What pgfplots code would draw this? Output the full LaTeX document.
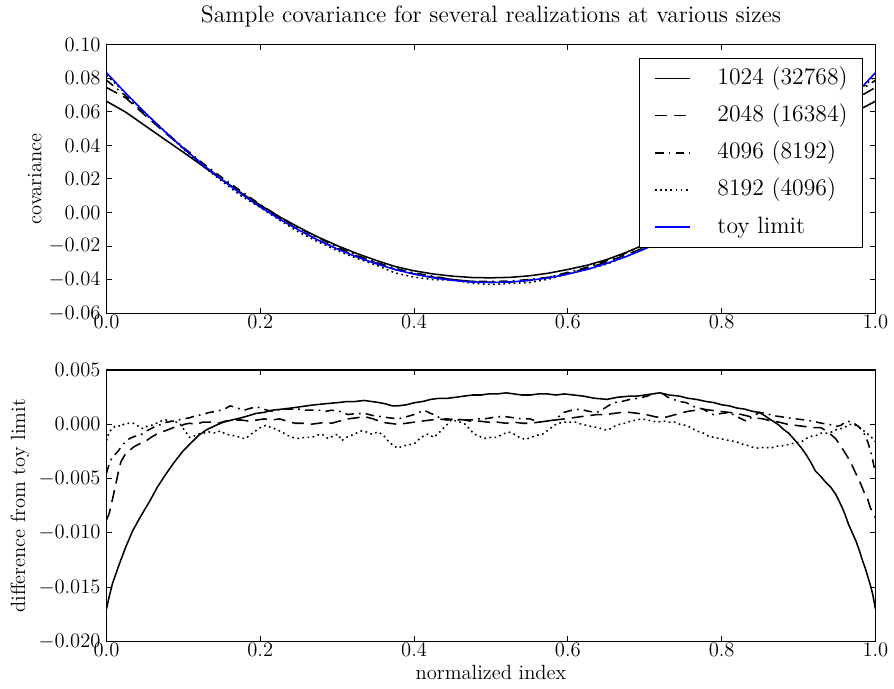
\documentclass[border=0pt]{standalone}
\usepackage{pgfplots}
\pgfplotsset{compat=1.18}
\usepackage{pgfplotstable}

\pgfplotstableread{
x a b c d t
0.000 0.0663 0.0745 0.0788 0.0818 0.0833
0.025 0.0598 0.0683 0.0695 0.0710 0.0711
0.050 0.0518 0.0580 0.0589 0.0593 0.0596
0.075 0.0438 0.0480 0.0487 0.0489 0.0486
0.100 0.0359 0.0383 0.0388 0.0378 0.0383
0.125 0.0278 0.0287 0.0295 0.0278 0.0286
0.150 0.0196 0.0198 0.0209 0.0187 0.0196
0.175 0.0117 0.0115 0.0127 0.0099 0.0111
0.200 0.0044 0.0037 0.0048 0.0030 0.0033
0.225 -0.0025 -0.0034 -0.0026 -0.0045 -0.0039
0.250 -0.0088 -0.0103 -0.0091 -0.0117 -0.0104
0.275 -0.0146 -0.0163 -0.0150 -0.0174 -0.0164
0.300 -0.0197 -0.0214 -0.0204 -0.0227 -0.0217
0.325 -0.0243 -0.0258 -0.0254 -0.0272 -0.0264
0.350 -0.0284 -0.0299 -0.0295 -0.0312 -0.0304
0.375 -0.0321 -0.0339 -0.0332 -0.0359 -0.0339
0.400 -0.0347 -0.0365 -0.0359 -0.0385 -0.0367
0.425 -0.0366 -0.0385 -0.0380 -0.0400 -0.0389
0.450 -0.0379 -0.0399 -0.0399 -0.0401 -0.0404
0.475 -0.0387 -0.0410 -0.0410 -0.0421 -0.0414
0.500 -0.0389 -0.0415 -0.0411 -0.0429 -0.0417
0.525 -0.0386 -0.0413 -0.0408 -0.0422 -0.0414
0.550 -0.0377 -0.0403 -0.0399 -0.0417 -0.0404
0.575 -0.0361 -0.0386 -0.0386 -0.0397 -0.0389
0.600 -0.0339 -0.0362 -0.0356 -0.0365 -0.0367
0.625 -0.0314 -0.0332 -0.0326 -0.0340 -0.0339
0.650 -0.0281 -0.0295 -0.0288 -0.0308 -0.0304
0.675 -0.0239 -0.0253 -0.0242 -0.0263 -0.0264
0.700 -0.0190 -0.0208 -0.0191 -0.0213 -0.0217
0.725 -0.0136 -0.0158 -0.0136 -0.0162 -0.0164
0.750 -0.0079 -0.0093 -0.0083 -0.0105 -0.0104
0.775 -0.0017 -0.0025 -0.0025 -0.0047 -0.0039
0.800 0.0052 0.0045 0.0043 0.0020 0.0033
0.825 0.0126 0.0120 0.0115 0.0094 0.0111
0.850 0.0207 0.0201 0.0207 0.0175 0.0196
0.875 0.0285 0.0288 0.0293 0.0267 0.0286
0.900 0.0365 0.0382 0.0387 0.0370 0.0383
0.925 0.0441 0.0483 0.0489 0.0478 0.0486
0.950 0.0530 0.0588 0.0595 0.0593 0.0596
0.975 0.0603 0.0679 0.0711 0.0710 0.0711
1.000 0.0663 0.0745 0.0788 0.0815 0.0833
}\topdata

\begin{document}
\begin{tikzpicture}
\pgfplotsset{
  every axis/.append style={
    scale only axis, width=448.3pt, xmin=0, xmax=1,
    xtick={0,0.2,0.4,0.6,0.8,1.0},
    xticklabel style={yshift=2.5pt,/pgf/number format/fixed,/pgf/number format/fixed zerofill,/pgf/number format/precision=1},
    tick label style={font=\fontsize{12}{14}\selectfont},
    label style={font=\fontsize{12}{14}\selectfont},
    axis line style={line width=0.8pt},
    major tick length=3pt,
    tick style={line width=0.6pt, black},
    scaled ticks=false,
    minor tick num=0,
    tick align=inside,
  },
  dashA/.style={dash pattern=on 7pt off 4pt},
  dashdotA/.style={dash pattern=on 5pt off 3pt on 1pt off 3pt},
  dotA/.style={dash pattern=on 1pt off 2pt},
}

\begin{axis}[
  name=top, at={(0pt,191.4pt)}, anchor=south west, height=156.6pt,
  ymin=-0.06, ymax=0.10,
  ytick={-0.06,-0.04,-0.02,0,0.02,0.04,0.06,0.08,0.10},
  yticklabel style={/pgf/number format/fixed,/pgf/number format/fixed zerofill,/pgf/number format/precision=2},
  ylabel={covariance},
  ylabel style={at={(axis description cs:-0.0932,0.5)}, anchor=center},
  title={Sample covariance for several realizations at various sizes},
  title style={font=\fontsize{13.8}{16}\selectfont, at={(axis description cs:0.5,1)}, anchor=base, yshift=7pt},
  legend cell align=left,
  legend image code/.code={\draw[#1] (0pt,0pt) -- (20.3pt,0pt) ++(15.7pt,0pt);},
  legend style={at={(1,1)}, anchor=north east, xshift=-7.5pt, yshift=-7.5pt,
    font=\fontsize{13.8}{16}\selectfont, fill=white,
    row sep=7.9pt, inner xsep=8.5pt, inner ysep=5pt,
    nodes={inner sep=0pt, text height=10.4pt, text depth=3.4pt}},
]
\addplot[black, line width=0.9pt] table[x=x,y=a] {\topdata};
\addlegendentry{1024 (32768)}
\addplot[black, line width=0.9pt, dashA] table[x=x,y=b] {\topdata};
\addlegendentry{2048 (16384)}
\addplot[black, line width=0.9pt, dashdotA] table[x=x,y=c] {\topdata};
\addlegendentry{4096 (8192)}
\addplot[black, line width=0.9pt, dotA] table[x=x,y=d] {\topdata};
\addlegendentry{8192 (4096)}
\addplot[blue, line width=0.9pt] table[x=x,y=t] {\topdata};
\addlegendentry{toy limit}
\end{axis}

\begin{axis}[
  at={(0pt,0pt)}, anchor=south west, height=158.3pt,
  ymin=-0.02, ymax=0.005,
  ytick={-0.02,-0.015,-0.01,-0.005,0,0.005},
  yticklabel style={/pgf/number format/fixed,/pgf/number format/fixed zerofill,/pgf/number format/precision=3},
  xlabel={normalized index},
  xlabel style={at={(axis description cs:0.5,0)}, anchor=base, yshift=-22pt},
  ylabel={difference from toy limit},
  ylabel style={at={(axis description cs:-0.1126,0.5)}, anchor=center},
]
% 1024 (32768)
\addplot[black, line width=0.9pt] coordinates {
(0,-0.0170)(0.003,-0.0160)(0.008,-0.0146)(0.013,-0.0136)(0.017,-0.0128)(0.025,-0.0113)
(0.034,-0.0098)(0.045,-0.0084)(0.056,-0.0071)(0.066,-0.0058)(0.077,-0.0046)(0.088,-0.0035)
(0.099,-0.0025)(0.11,-0.0017)(0.12,-0.0010)(0.13,-0.0005)(0.142,-0.0001)(0.152,0.0002)
(0.163,0.0004)(0.175,0.0006)(0.185,0.0008)(0.194,0.0010)(0.205,0.0011)(0.215,0.0013)
(0.228,0.0014)(0.24,0.0015)(0.25,0.0016)(0.26,0.0017)(0.271,0.0018)(0.285,0.0019)
(0.301,0.0020)(0.312,0.0021)(0.323,0.0021)(0.335,0.0022)(0.345,0.0021)(0.355,0.0020)
(0.362,0.0019)(0.372,0.0017)(0.379,0.0017)(0.39,0.0018)(0.401,0.0020)(0.411,0.0021)
(0.422,0.0023)(0.433,0.0024)(0.444,0.0024)(0.455,0.0025)(0.465,0.0026)(0.476,0.0027)
(0.487,0.0027)(0.497,0.0028)(0.508,0.0028)(0.52,0.0029)(0.53,0.0028)(0.54,0.0027)
(0.551,0.0027)(0.562,0.0028)(0.573,0.0028)(0.585,0.0027)(0.595,0.0028)(0.608,0.0027)
(0.62,0.0026)(0.635,0.0024)(0.651,0.0023)(0.665,0.0025)(0.681,0.0026)(0.69,0.0026)
(0.700,0.0027)(0.71,0.0028)(0.720,0.0029)(0.732,0.0027)(0.745,0.0026)(0.756,0.0024)
(0.767,0.0023)(0.78,0.0021)(0.79,0.0020)(0.80,0.0018)(0.81,0.0017)(0.82,0.0015)
(0.83,0.0014)(0.84,0.0012)(0.849,0.0011)(0.856,0.0008)(0.862,0.0005)(0.869,0.0002)
(0.875,-0.0001)(0.881,-0.0005)(0.887,-0.0008)(0.892,-0.0012)(0.897,-0.0016)(0.904,-0.0022)
(0.91,-0.0028)(0.916,-0.0035)(0.922,-0.0043)(0.929,-0.0048)(0.935,-0.0053)(0.942,-0.0058)
(0.948,-0.0064)(0.953,-0.0071)(0.957,-0.0077)(0.961,-0.0084)(0.965,-0.0092)(0.97,-0.0100)
(0.975,-0.0108)(0.979,-0.0116)(0.983,-0.0125)(0.987,-0.0133)(0.99,-0.0140)(0.993,-0.0147)
(0.996,-0.0155)(0.998,-0.0162)(1.0,-0.0170)
};
% 2048 (16384)
\addplot[black, line width=0.9pt, dashA] coordinates {
(0,-0.0088)(0.003,-0.0083)(0.005,-0.0078)(0.009,-0.0065)(0.013,-0.0052)(0.016,-0.0042)
(0.019,-0.0034)(0.024,-0.0028)(0.03,-0.0024)(0.035,-0.0021)(0.04,-0.0019)(0.046,-0.0017)
(0.052,-0.0015)(0.058,-0.0012)(0.065,-0.0009)(0.072,-0.0007)(0.08,-0.0005)(0.087,-0.0003)
(0.095,-0.0002)(0.101,0.0000)(0.108,0.0001)(0.116,0.0000)(0.125,0.0002)(0.135,0.0002)
(0.145,0.0001)(0.155,0.0003)(0.165,0.0004)(0.175,0.0004)(0.185,0.0003)(0.196,0.0004)
(0.205,0.0005)(0.215,0.0004)(0.225,0.0005)(0.235,0.0003)(0.245,0.0001)(0.255,0.0001)
(0.265,0.0000)(0.276,0.0001)(0.285,0.0002)(0.293,0.0001)(0.303,0.0003)(0.314,0.0005)
(0.325,0.0006)(0.336,0.0007)(0.347,0.0005)(0.358,0.0002)(0.368,0.0001)(0.379,0.0000)
(0.39,0.0001)(0.4,0.0002)(0.41,0.0003)(0.422,0.0004)(0.432,0.0005)(0.443,0.0004)
(0.454,0.0005)(0.465,0.0004)(0.474,0.0003)(0.485,0.0003)(0.496,0.0002)(0.508,0.0002)
(0.52,0.0001)(0.53,0.0002)(0.541,0.0001)(0.551,0.0001)(0.562,0.0002)(0.573,0.0003)
(0.584,0.0004)(0.595,0.0005)(0.606,0.0006)(0.616,0.0007)(0.627,0.0008)(0.638,0.0009)
(0.649,0.0009)(0.659,0.0010)(0.67,0.0011)(0.681,0.0011)(0.692,0.0010)(0.702,0.0009)
(0.713,0.0007)(0.724,0.0006)(0.735,0.0008)(0.745,0.0010)(0.756,0.0012)(0.767,0.0013)
(0.776,0.0014)(0.786,0.0013)(0.797,0.0012)(0.81,0.0011)(0.82,0.0010)(0.832,0.0008)
(0.843,0.0006)(0.854,0.0005)(0.865,0.0003)(0.875,0.0002)(0.886,0.0000)(0.897,-0.0001)
(0.908,-0.0002)(0.918,-0.0003)(0.929,-0.0003)(0.94,-0.0008)(0.948,-0.0013)(0.955,-0.0020)
(0.962,-0.0028)(0.968,-0.0035)(0.973,-0.0043)(0.977,-0.0049)(0.981,-0.0055)(0.985,-0.0062)
(0.990,-0.0069)(0.993,-0.0076)(0.996,-0.0081)(1.0,-0.0086)
};
% 4096 (8192)
\addplot[black, line width=0.9pt, dashdotA] coordinates {
(0,-0.0045)(0.004,-0.0035)(0.008,-0.0030)(0.0147,-0.0025)(0.022,-0.0018)(0.03,-0.0013)
(0.037,-0.0011)(0.044,-0.0010)(0.052,-0.0006)(0.058,-0.0004)(0.065,-0.0001)(0.072,0.0000)
(0.078,0.0002)(0.088,0.0003)(0.099,0.0005)(0.108,0.0006)(0.116,0.0008)(0.125,0.0009)
(0.134,0.0011)(0.143,0.0012)(0.153,0.0014)(0.161,0.0017)(0.17,0.0015)(0.179,0.0013)
(0.188,0.0015)(0.196,0.0016)(0.204,0.0014)(0.209,0.0013)(0.216,0.0012)(0.222,0.0013)
(0.23,0.0014)(0.239,0.0014)(0.25,0.0014)(0.258,0.0013)(0.266,0.0013)(0.276,0.0013)
(0.285,0.0012)(0.293,0.0013)(0.303,0.0012)(0.314,0.0009)(0.325,0.0010)(0.336,0.0010)
(0.347,0.0008)(0.358,0.0007)(0.368,0.0006)(0.379,0.0005)(0.39,0.0007)(0.4,0.0009)
(0.413,0.0013)(0.422,0.0010)(0.429,0.0008)(0.435,0.0005)(0.444,0.0005)(0.452,0.0004)
(0.463,0.0004)(0.474,0.0004)(0.482,0.0005)(0.491,0.0005)(0.5,0.0006)(0.508,0.0007)
(0.52,0.0007)(0.53,0.0006)(0.541,0.0005)(0.551,0.0005)(0.558,0.0003)(0.564,0.0002)
(0.573,0.0003)(0.582,0.0004)(0.588,0.0007)(0.595,0.0011)(0.605,0.0013)(0.616,0.0014)
(0.627,0.0012)(0.638,0.0011)(0.648,0.0015)(0.659,0.0020)(0.67,0.0021)(0.681,0.0023)
(0.692,0.0024)(0.703,0.0026)(0.711,0.0028)(0.718,0.0029)(0.724,0.0028)(0.73,0.0025)
(0.737,0.0023)(0.745,0.0021)(0.754,0.0020)(0.765,0.0016)(0.776,0.0014)(0.783,0.0011)
(0.789,0.0009)(0.8,0.0010)(0.81,0.0011)(0.82,0.0007)(0.832,0.0003)(0.84,0.0007)
(0.849,0.0011)(0.858,0.0010)(0.867,0.0008)(0.877,0.0007)(0.887,0.0006)(0.897,0.0005)
(0.908,0.0004)(0.918,0.0003)(0.93,0.0001)(0.94,0.0000)(0.948,-0.0002)(0.955,-0.0001)
(0.962,0.0003)(0.97,0.0002)(0.978,-0.0002)(0.985,-0.0008)(0.99,-0.0016)(0.995,-0.0028)
(1.0,-0.0045)
};
% 8192 (4096)
\addplot[black, line width=0.9pt, dotA] coordinates {
(0,-0.0015)(0.002,-0.0010)(0.004,-0.0007)(0.007,-0.0004)(0.011,-0.0002)(0.015,-0.0001)
(0.019,-0.0002)(0.022,0.0000)(0.028,0.0001)(0.035,0.0001)(0.04,-0.0001)(0.044,-0.0003)
(0.048,-0.0004)(0.052,-0.0002)(0.058,-0.0001)(0.065,0.0001)(0.071,0.0003)(0.078,0.0004)
(0.085,0.0003)(0.091,0.0002)(0.096,0.0000)(0.1,-0.0004)(0.104,-0.0008)(0.108,-0.0012)
(0.113,-0.0011)(0.12,-0.0009)(0.127,-0.0008)(0.133,-0.0007)(0.142,-0.0008)(0.148,-0.0006)
(0.155,-0.0009)(0.162,-0.0010)(0.17,-0.0011)(0.176,-0.0013)(0.181,-0.0013)(0.188,-0.0009)
(0.194,-0.0006)(0.2,-0.0003)(0.207,-0.0001)(0.215,-0.0003)(0.222,-0.0005)(0.228,-0.0007)
(0.235,-0.0010)(0.242,-0.0012)(0.25,-0.0013)(0.258,-0.0012)(0.267,-0.0012)(0.274,-0.0010)
(0.28,-0.0009)(0.288,-0.0013)(0.294,-0.0011)(0.301,-0.0009)(0.306,-0.0015)(0.312,-0.0012)
(0.319,-0.0010)(0.325,-0.0008)(0.332,-0.0006)(0.338,-0.0007)(0.345,-0.0009)(0.353,-0.0007)
(0.36,-0.0010)(0.366,-0.0015)(0.372,-0.0019)(0.379,-0.0022)(0.385,-0.0020)(0.392,-0.0019)
(0.4,-0.0018)(0.409,-0.0012)(0.418,-0.0009)(0.426,-0.0012)(0.435,-0.0006)(0.442,-0.0001)
(0.448,0.0004)(0.456,0.0003)(0.465,0.0001)(0.472,-0.0004)(0.478,-0.0009)(0.485,-0.0011)
(0.491,-0.0013)(0.5,-0.0012)(0.508,-0.0012)(0.515,-0.0009)(0.523,-0.0007)(0.53,-0.0009)
(0.537,-0.0012)(0.545,-0.0014)(0.552,-0.0012)(0.56,-0.0010)(0.567,-0.0009)(0.575,-0.0005)
(0.582,-0.0001)(0.588,0.0001)(0.596,0.0002)(0.603,0.0002)(0.61,0.0002)(0.618,0.0000)
(0.625,-0.0001)(0.631,-0.0002)(0.64,-0.0003)(0.647,-0.0005)(0.653,-0.0005)(0.66,-0.0002)
(0.667,0.0000)(0.674,0.0001)(0.682,0.0003)(0.689,0.0004)(0.696,0.0005)(0.703,0.0004)
(0.71,0.0003)(0.717,0.0002)(0.725,0.0003)(0.732,0.0002)(0.739,0.0002)(0.746,0.0000)
(0.754,-0.0001)(0.76,-0.0003)(0.767,-0.0006)(0.776,-0.0008)(0.783,-0.0011)(0.79,-0.0012)
(0.797,-0.0013)(0.804,-0.0014)(0.81,-0.0015)(0.819,-0.0016)(0.826,-0.0018)(0.832,-0.0019)
(0.84,-0.0021)(0.848,-0.0022)(0.856,-0.0021)(0.864,-0.0022)(0.871,-0.0020)(0.877,-0.0020)
(0.884,-0.0019)(0.890,-0.0018)(0.897,-0.0017)(0.904,-0.0016)(0.91,-0.0013)(0.917,-0.0011)
(0.924,-0.0010)(0.93,-0.0008)(0.937,-0.0008)(0.943,-0.0007)(0.949,-0.0005)(0.955,-0.0004)
(0.962,-0.0002)(0.968,0.0000)(0.975,-0.0001)(0.98,-0.0003)(0.985,-0.0006)(0.99,-0.0009)
(0.995,-0.0012)(1.0,-0.0016)
};
\end{axis}
\path (-62.1pt,-27.3pt) rectangle (456.4pt,366.6pt);
\end{tikzpicture}
\end{document}
